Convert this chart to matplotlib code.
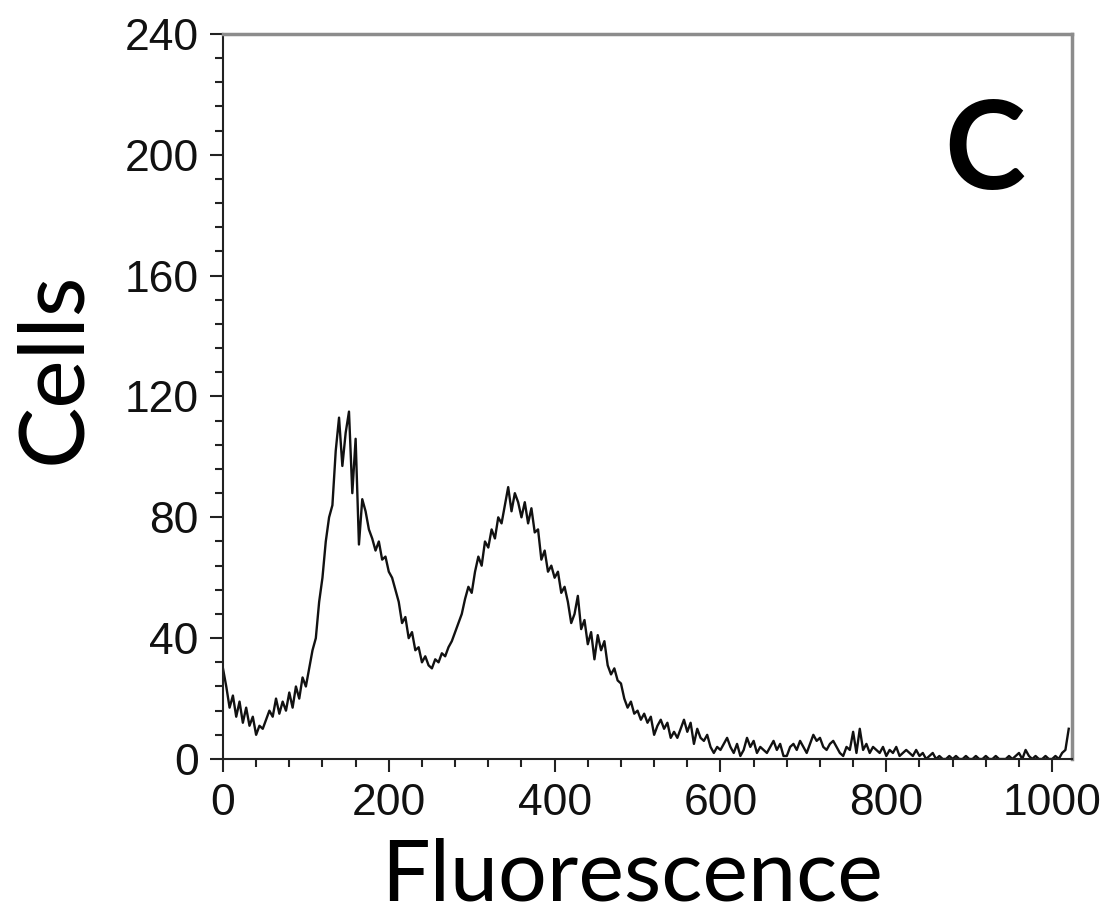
import numpy as np
import matplotlib
matplotlib.use("Agg")
import matplotlib.pyplot as plt
from matplotlib.ticker import MultipleLocator

# histogram, one value per 4 channels
channel_step = 4
cells = [
    30, 24, 17, 21, 14, 19, 12, 17, 11, 14,
    8, 11, 10, 13, 16, 14, 20, 15, 19, 16,
    22, 17, 24, 20, 27, 24, 30, 36, 40, 52,
    60, 72, 80, 84, 102, 113, 97, 108, 115, 88,
    106, 71, 86, 82, 76, 73, 69, 72, 66, 67,
    62, 60, 56, 52, 45, 47, 40, 42, 36, 37,
    32, 34, 31, 30, 33, 32, 35, 34, 37, 39,
    42, 45, 48, 53, 57, 55, 62, 67, 64, 72,
    70, 76, 73, 80, 78, 84, 90, 82, 88, 85,
    80, 85, 78, 83, 75, 76, 66, 69, 62, 64,
    60, 62, 55, 57, 52, 45, 48, 54, 43, 46,
    38, 42, 33, 41, 36, 39, 31, 28, 30, 26,
    25, 20, 17, 19, 15, 16, 13, 15, 12, 14,
    8, 11, 13, 10, 12, 7, 9, 7, 10, 13,
    9, 12, 5, 10, 7, 6, 8, 4, 2, 4,
    3, 5, 7, 4, 2, 5, 1, 3, 7, 4,
    6, 2, 4, 3, 2, 4, 6, 3, 5, 1,
    1, 4, 5, 3, 6, 4, 2, 5, 8, 6,
    7, 4, 3, 5, 6, 4, 2, 1, 4, 3,
    9, 2, 10, 3, 5, 2, 4, 3, 2, 4,
    1, 3, 2, 4, 1, 2, 3, 2, 1, 3,
    1, 2, 0, 1, 2, 0, 1, 0, 0, 1,
    0, 1, 0, 0, 1, 0, 0, 1, 0, 0,
    1, 0, 0, 1, 0, 0, 0, 1, 0, 1,
    2, 0, 3, 1, 0, 1, 0, 0, 1, 0,
    0, 1, 0, 2, 3, 10,
]
channels = np.arange(len(cells)) * channel_step

x_ticks = [0, 200, 400, 600, 800, 1000]
y_ticks = [0, 40, 80, 120, 160, 200, 240]

fig = plt.figure(figsize=(11.01, 9.18), dpi=100)
ax = fig.add_axes([0.2025, 0.1732, 0.7712, 0.7898])

ax.plot(channels, cells, color="#111111", lw=1.7)

ax.set_xlim(0, 1024)
ax.set_ylim(0, 240)
ax.set_xticks(x_ticks)
ax.set_yticks(y_ticks)
ax.xaxis.set_minor_locator(MultipleLocator(40))
ax.yaxis.set_minor_locator(MultipleLocator(8))

ax.tick_params(which="major", direction="out", length=9.5, width=1.5,
               labelsize=32, pad=8, color="#222222")
ax.tick_params(which="minor", direction="out", length=5.5, width=1.5,
               color="#222222")
for lab in ax.get_xticklabels() + ax.get_yticklabels():
    lab.set_fontfamily("Liberation Sans")
    lab.set_color("#111111")

for side in ("left", "bottom"):
    ax.spines[side].set_linewidth(1.5)
    ax.spines[side].set_color("#222222")
for side in ("top", "right"):
    ax.spines[side].set_linewidth(2.5)
    ax.spines[side].set_color("#8c8c8c")

ax.set_xlabel("Fluorescence", fontsize=62, family="Lato", va="center")
ax.set_ylabel("Cells", fontsize=66, family="Lato", va="center")
ax.xaxis.set_label_coords(0.482, -0.162)
ax.yaxis.set_label_coords(-0.198, 0.54)

ax.text(0.945, 0.835, "C", transform=ax.transAxes, fontsize=88,
        fontweight="bold", family="Lato", ha="right", va="center")

fig.savefig("out.png", dpi=100)
